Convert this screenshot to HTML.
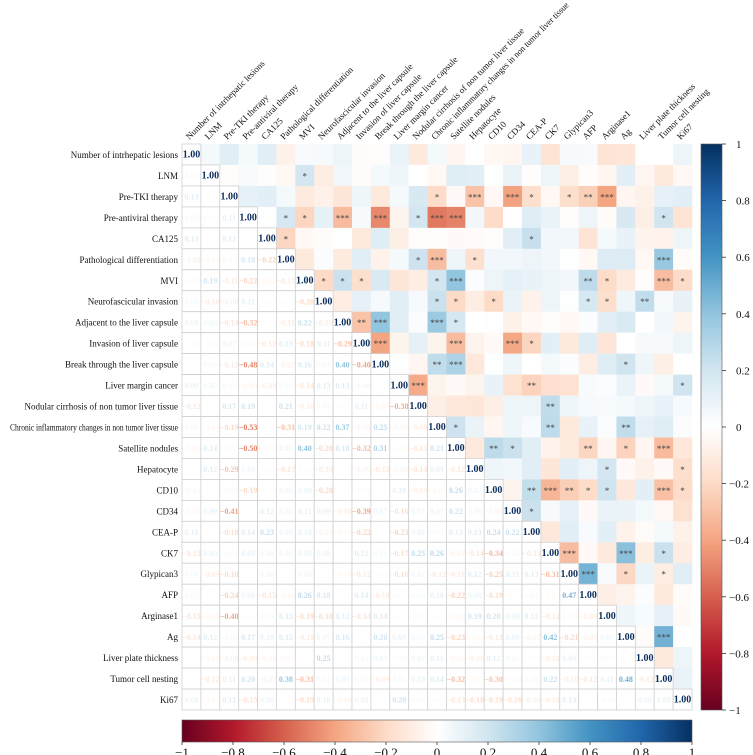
<!DOCTYPE html>
<html><head><meta charset="utf-8"><style>
html,body{margin:0;padding:0;background:#fff;}
svg{display:block;font-family:"Liberation Serif",serif;}
</style></head><body>
<svg id="chart" width="753" height="755" viewBox="0 0 753 755" xmlns="http://www.w3.org/2000/svg">
<defs>
<linearGradient id="gv" x1="0" y1="1" x2="0" y2="0"></linearGradient>
<linearGradient id="gh" x1="0" y1="0" x2="1" y2="0"></linearGradient>
</defs>
</svg>
<script>
const labels = ["Number of intrhepatic lesions","LNM","Pre-TKI therapy","Pre-antiviral therapy","CA125","Pathological differentiation","MVI","Neurofascicular invasion","Adjacent to the liver capsule","Invasion of liver capsule","Break through the liver capsule","Liver margin cancer","Nodular cirrhosis of non tumor liver tissue","Chronic inflammatory changes in non tumor liver tissue","Satellite nodules","Hepatocyte","CD10","CD34","CEA-P","CK7","Glypican3","AFP","Arginase1","Ag","Liver plate thickness","Tumor cell nesting","Ki67"];
const lowerRows = [
[],
[0.05],
[0.13,-0.01],
[0.05,0.03,0.11],
[0.13,-0.01,0.12,0.01],
[-0.08,-0.04,0.05,0.18,-0.22],
[0.03,0.19,-0.11,-0.22,-0.04,-0.12],
[0.04,-0.10,-0.08,0.11,-0.02,0.02,-0.20],
[0.08,0.06,-0.14,-0.32,0.01,-0.11,0.22,-0.10],
[-0.02,-0.02,0.07,0.04,-0.12,0.13,-0.18,0.11,-0.29],
[-0.01,0.05,-0.12,-0.48,0.14,-0.07,0.16,0.04,0.40,-0.40],
[0.09,0.07,0.05,-0.06,-0.09,0.05,-0.14,0.13,0.13,-0.06,0.01],
[-0.12,0.00,0.17,0.19,-0.01,0.21,-0.10,0.04,0.02,0.11,-0.05,-0.38],
[0.05,-0.04,-0.19,-0.53,-0.01,-0.31,0.19,0.22,0.37,-0.06,0.25,-0.06,-0.09],
[-0.05,0.14,-0.03,-0.50,-0.03,0.07,0.40,-0.20,0.18,-0.32,0.31,-0.03,-0.13,0.21],
[0.00,0.12,-0.29,0.06,-0.02,-0.17,0.02,-0.10,0.00,-0.06,-0.13,-0.06,-0.14,0.09,-0.12],
[-0.04,0.01,-0.04,-0.19,-0.01,0.06,0.08,-0.20,0.01,-0.03,0.01,0.10,-0.09,-0.05,0.26,0.07],
[-0.05,0.09,-0.41,0.00,0.12,0.06,0.11,0.09,-0.08,-0.39,0.07,-0.16,0.07,0.07,0.22,0.06,-0.06],
[0.10,-0.01,-0.18,0.14,0.23,0.08,0.10,-0.07,-0.04,-0.22,0.00,-0.23,0.08,0.03,0.13,0.13,0.24,0.22],
[-0.15,0.08,-0.04,0.09,0.06,0.06,0.08,0.08,-0.01,0.12,0.05,-0.17,0.25,0.26,-0.07,-0.14,-0.34,0.04,-0.13],
[0.04,-0.09,-0.18,-0.01,0.06,0.01,0.06,0.01,-0.04,-0.12,0.02,-0.16,0.07,-0.12,-0.11,0.12,-0.25,0.11,0.13,-0.31],
[0.03,-0.01,-0.24,0.08,-0.15,-0.04,0.26,0.18,0.02,0.14,-0.10,0.03,0.04,0.10,-0.22,0.08,-0.19,-0.03,0.03,-0.03,0.47],
[-0.15,-0.05,-0.40,-0.02,0.05,0.15,-0.19,-0.18,0.12,-0.14,0.14,0.02,0.03,0.02,-0.05,0.19,0.20,0.09,0.12,-0.12,0.03,-0.09],
[-0.14,0.12,-0.05,0.17,0.10,0.15,-0.11,0.07,0.16,0.00,0.20,0.09,0.05,0.25,-0.23,-0.03,-0.13,0.09,-0.07,0.42,-0.21,-0.06,0.07],
[0.00,-0.05,-0.08,-0.09,-0.06,-0.04,-0.01,0.25,0.00,0.04,0.07,-0.03,0.07,0.11,-0.05,-0.08,0.12,0.05,-0.02,-0.10,0.09,0.02,0.03,-0.02],
[0.00,-0.12,0.11,0.20,-0.07,0.38,-0.31,0.04,0.06,0.04,-0.09,0.05,0.10,0.14,-0.32,-0.03,-0.30,-0.04,0.05,0.22,-0.10,-0.12,0.11,0.48,-0.12],
[0.08,-0.04,0.12,-0.15,0.08,-0.02,-0.19,0.10,-0.06,0.08,0.00,0.20,0.04,0.02,-0.13,-0.18,-0.19,-0.16,-0.08,-0.10,0.13,-0.02,-0.03,0.00,0.08,0.09]
];
const starRows = [1,2,2,2,2,2,2,2,3,3,3,3,3,3,3,3,4,4,5,5,5,5,6,6,6,6,6,6,6,6,6,7,7,7,7,7,7,8,8,8,8,9,9,9,9,10,10,10,11,11,11,12,13,13,13,14,14,14,14,14,15,15,16,16,16,16,16,16,16,17,19,19,19,20,20,20,23];
const starCols = [6,13,15,17,18,20,21,22,5,6,8,10,12,13,14,25,5,18,12,13,15,25,7,8,9,13,14,21,22,25,26,13,14,16,21,22,24,9,10,13,14,10,14,17,18,13,14,23,12,18,26,19,14,19,23,16,17,21,23,25,22,26,18,19,20,21,22,25,26,18,20,23,25,21,23,25,25];
const starMarks = ["*","*","***","***","*","*","**","***","*","*","***","***","*","***","***","*","*","*","*","***","*","***","*","*","*","*","***","**","*","***","*","*","*","*","*","*","**","**","***","***","*","***","***","***","*","**","***","*","***","**","*","**","*","**","**","**","*","**","*","***","*","*","**","***","**","*","*","***","*","*","***","***","*","***","*","*","***"];
const barTicks = [1,0.8,0.6,0.4,0.2,0,-0.2,-0.4,-0.6,-0.8,-1];

const NS = "http://www.w3.org/2000/svg";
const svg = document.getElementById("chart");
const N = labels.length;
const X0 = 182, X1 = 692, Y0 = 144, Y1 = 710;
const cw = (X1 - X0) / N, ch = (Y1 - Y0) / N;
const xPos = c => X0 + c * cw;
const yPos = r => Y0 + r * ch;
const stops = ["#67001f","#b2182b","#d6604d","#f4a582","#fddbc7","#ffffff","#d1e5f0","#92c5de","#4393c3","#2166ac","#053061"];
function hex(h){return [1,3,5].map(i=>parseInt(h.substr(i,2),16));}
function color(v){
  let t = (Math.max(-1,Math.min(1,v)) + 1) / 2 * 10;
  let i = Math.min(9, Math.floor(t)); let f = t - i;
  const a = hex(stops[i]), b = hex(stops[i+1]);
  return "rgb(" + a.map((x,k)=>Math.round(x + (b[k]-x)*f)).join(",") + ")";
}
function el(tag, attrs, parent){
  const e = document.createElementNS(NS, tag);
  for (const k in attrs) e.setAttribute(k, attrs[k]);
  (parent || svg).appendChild(e);
  return e;
}
function fit(t, maxLen){
  const L = t.getComputedTextLength();
  if (L > maxLen) { t.setAttribute("textLength", maxLen); t.setAttribute("lengthAdjust", "spacingAndGlyphs"); }
}
function val(r,c){ return r > c ? lowerRows[r][c] : (r < c ? lowerRows[c][r] : 1); }

const gCells = el("g", {});


for (let r = 0; r < N; r++) for (let c = r + 1; c < N; c++) {
  const rc = el("rect", {x:xPos(c), y:yPos(r), width:cw+0.3, height:ch+0.3, fill:color(val(r,c))}, gCells);
  
  
}
for (let r = 0; r < N; r++) for (let c = 0; c <= r; c++) {
  const rc = el("rect", {x:xPos(c), y:yPos(r), width:cw, height:ch, fill:"#fff", stroke:"#cfcfcf", "stroke-width":0.8}, gCells);
  
  
  const v = val(r,c);
  const t = el("text", {x:xPos(c)+cw/2, y:yPos(r)+ch/2+3.2, "text-anchor":"middle", "font-size": r===c ? 10 : 8, "font-weight":"bold", fill: r===c ? "#0b2d5c" : color(v)}, gCells);
  t.textContent = (r===c ? "1.00" : (v < 0 ? "\u2212" + Math.abs(v).toFixed(2) : v.toFixed(2)));
  
  
}
for (let i = 0; i < starRows.length; i++) {
  const t = el("text", {x:xPos(starCols[i])+cw/2, y:yPos(starRows[i])+ch/2+4, "text-anchor":"middle", "font-size":9, fill:"#444"}, gCells);
  t.textContent = starMarks[i];
  
  
}
for (let r = 0; r < N; r++) {
  const t = el("text", {x:178, y:yPos(r)+ch/2+3.5, "text-anchor":"end", "font-size":9, fill:"#111"});
  t.textContent = labels[r];
  
  
  fit(t, 168);
}
for (let c = 0; c < N; c++) {
  const x = xPos(c)+cw/2 - 2, y = Y0 - 4;
  const t = el("text", {x:x, y:y, "font-size":9, fill:"#111", transform:"rotate(-45 "+x+" "+y+")"});
  t.textContent = labels[c];
  
  
  fit(t, 190);
}
const gv = document.getElementById("gv"), gh = document.getElementById("gh");
stops.forEach((s,i)=>{
  el("stop", {offset:(i*10)+"%", "stop-color":s}, gv);
  el("stop", {offset:(i*10)+"%", "stop-color":s}, gh);
});
const cbx = 701, cbw = 21;
const rb = el("rect", {x:cbx, y:Y0, width:cbw, height:Y1-Y0, fill:"url(#gv)", stroke:"#555", "stroke-width":0.6});


const cbY = v => Y1 - (v + 1) / 2 * (Y1 - Y0);
barTicks.forEach(v=>{
  el("line", {x1:cbx+cbw, x2:cbx+cbw+4, y1:cbY(v), y2:cbY(v), stroke:"#333", "stroke-width":0.8});
  const t = el("text", {x:v < 0 ? 729 : 736, y:cbY(v)+4, "font-size":11, fill:"#111"});
  t.textContent = v < 0 ? "\u2212" + Math.abs(v) : String(v);
  
  
});
const by = 720, bh = 22;
const bb = el("rect", {x:X0, y:by, width:X1-X0, height:bh, fill:"url(#gh)", stroke:"#555", "stroke-width":0.6});


const cbX = v => X0 + (v + 1) / 2 * (X1 - X0);
barTicks.forEach(v=>{
  el("line", {x1:cbX(v), x2:cbX(v), y1:by+bh, y2:by+bh+3, stroke:"#333", "stroke-width":0.8});
  const t = el("text", {x:cbX(v), y:757, "text-anchor":"middle", "font-size":13, fill:"#111"});
  t.textContent = v < 0 ? "\u2212" + Math.abs(v) : String(v);
  
  
});
</script>
</body></html>
